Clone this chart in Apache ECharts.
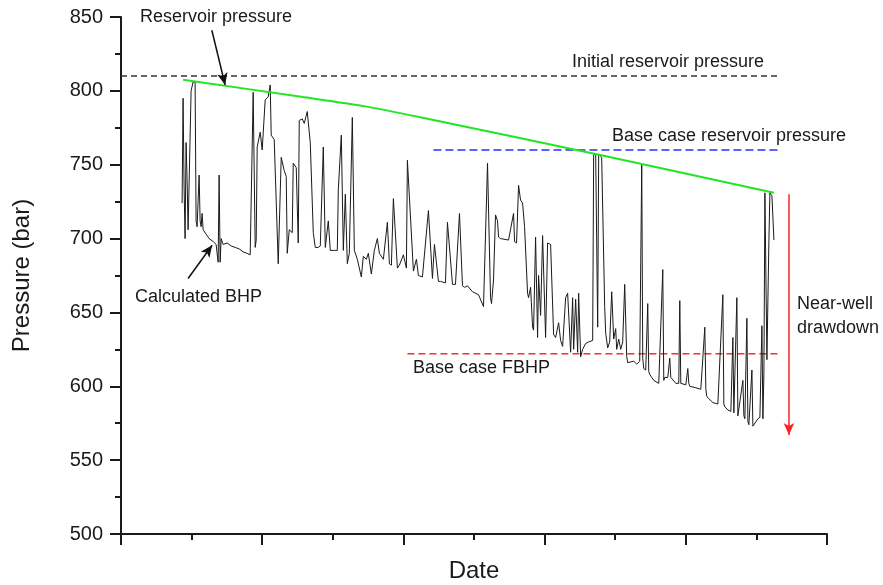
<!DOCTYPE html>
<html>
<head>
<meta charset="utf-8">
<script src="https://cdn.jsdelivr.net/npm/echarts@6/dist/echarts.min.js"></script>
<style>
  html, body { margin: 0; padding: 0; background: #fff; }
  #chart { width: 883px; height: 585px; }
</style>
</head>
<body>
<div id="chart"></div>
<script>
// time axis has no labels, so x is just a day index
const bhpDays = [61, 62, 63, 64, 65, 66, 67, 70, 72, 74, 75, 76, 78, 79, 80, 81, 82, 85, 88, 92, 95, 97, 98, 99, 100, 102, 106, 110, 114, 118, 122, 126, 129,
  132, 134, 135, 136, 139, 141, 144, 147, 149, 150, 153, 157, 160, 163, 165, 166, 168, 171, 172, 175, 177, 178, 181, 183, 186, 189, 192, 194, 197,
  199, 202, 204, 207, 209, 213, 216, 217, 220, 222, 224, 226, 228, 231, 233, 236, 240, 242, 245, 247, 250, 253, 256, 258, 262, 266, 268, 270, 272,
  276, 278, 282, 285, 286, 292, 295, 297, 301, 307, 311, 313, 317, 319, 324, 326, 331, 334, 338, 341, 343, 346,
  351, 357, 362, 366, 367, 369, 370, 372, 374, 376, 377, 379, 387, 392, 393, 395, 397, 399, 401, 403, 406, 407, 409, 411, 412, 414, 416, 417, 419,
  421, 424, 426, 429, 432, 434, 437, 439, 441, 444, 446, 449, 451, 452, 454, 456, 457, 459, 461, 464, 467, 471, 472, 474, 476, 477, 480, 483,
  484, 486, 488, 490, 492, 494, 495, 497, 499, 501, 503, 505, 506, 507, 512, 515, 518, 520, 521, 522, 524, 526, 527, 528, 532, 537, 541, 542, 543,
  546, 548, 549, 550, 554, 557, 558, 559, 560, 564, 566, 567, 568, 574, 579, 583, 584, 585, 591, 596, 601, 602, 603, 606, 609, 611, 612, 613,
  615, 616, 617, 621, 622, 623, 625, 626, 627, 630, 631, 632, 636, 638, 640, 641, 642, 643, 645, 647, 648, 650, 652, 653];
const bhpPressure = [724, 795, 735, 700, 765, 740, 706, 800, 806, 806, 712, 708, 743, 712, 708, 717, 706, 703, 700, 698, 696, 684, 743, 684, 700, 696, 697, 695, 694, 693, 691, 690, 689,
  799, 694, 699, 762, 772, 760, 794, 796, 804, 770, 767, 683, 755, 746, 742, 690, 706, 704, 751, 748, 697, 780, 781, 778, 786, 765, 704, 694, 694,
  695, 762, 694, 712, 692, 692, 692, 733, 770, 692, 730, 683, 690, 782, 692, 686, 674, 688, 686, 690, 676, 692, 700, 690, 686, 711, 683, 682,
  727, 680, 682, 689, 680, 753, 678, 686, 675, 674, 719, 673, 696, 671, 671, 670, 711, 669, 669, 717, 668, 667,
  668, 664, 662, 654, 751, 750, 660, 656, 672, 716, 712, 701, 700, 699, 717, 698, 697, 736, 726, 724, 708, 663, 660, 667, 640, 638, 701, 633, 675,
  648, 702, 633, 697, 696, 635, 633, 643, 631, 627, 660, 663, 623, 660, 625, 659, 623, 663, 620, 625, 629, 630, 631, 757, 757, 640, 757, 755,
  654, 636, 626, 630, 664, 632, 639, 625, 632, 625, 630, 669, 620, 616, 615, 617, 615, 617, 750, 619, 612, 611, 656, 610, 608, 604, 602, 679, 604,
  606, 606, 619, 606, 605, 602, 602, 658, 602, 601, 601, 612, 602, 600, 599, 598, 640, 598, 593, 589, 588, 662, 588, 586, 584, 583, 633, 582,
  581, 660, 580, 581, 604, 580, 578, 646, 576, 574, 611, 573, 572, 578, 579, 641, 578, 609, 731, 618, 699, 731, 729, 699];

const reservoirDays = [62, 180, 244, 300, 482, 652];
const reservoirPressure = [807.5, 796, 789.5, 782, 756, 731];

const initialPressure = 810;
const baseCaseReservoir = 760;
const baseCaseFBHP = 622;
const yTicks = [500, 550, 600, 650, 700, 750, 800, 850];

const font = "'Liberation Sans', Arial, sans-serif";
const zip = (xs, ys) => xs.map((x, i) => [x, ys[i]]);

const chart = echarts.init(document.getElementById('chart'));

function label (text, x, y) {
  return {
    type: 'text',
    x: x,
    y: y,
    style: { text: text, font: '18px ' + font, fill: '#1a1a1a', verticalAlign: 'middle' },
  };
}

const option = {
  animation: false,
  backgroundColor: '#fff',
  grid: { left: 121, right: 56, top: 17, bottom: 51, containLabel: false, outerBoundsMode: 'none' },
  xAxis: {
    type: 'value',
    min: 0,
    max: 705,
    interval: 141,
    name: 'Date',
    nameLocation: 'middle',
    nameGap: 25,
    nameTextStyle: { fontFamily: font, fontSize: 24, color: '#1a1a1a' },
    axisLine: { onZero: false, lineStyle: { color: '#1a1a1a', width: 2 } },
    axisTick: { length: 11, lineStyle: { color: '#1a1a1a', width: 2 } },
    minorTick: { show: true, splitNumber: 2, length: 6, lineStyle: { color: '#1a1a1a', width: 2 } },
    axisLabel: { show: false },
    splitLine: { show: false },
  },
  yAxis: {
    type: 'value',
    min: yTicks[0],
    max: yTicks[yTicks.length - 1],
    interval: 50,
    name: 'Pressure (bar)',
    nameLocation: 'middle',
    nameGap: 87,
    nameTextStyle: { fontFamily: font, fontSize: 24, color: '#1a1a1a' },
    axisLine: { show: true, lineStyle: { color: '#1a1a1a', width: 2 } },
    axisTick: { show: true, length: 11, lineStyle: { color: '#1a1a1a', width: 2 } },
    minorTick: { show: true, splitNumber: 2, length: 6, lineStyle: { color: '#1a1a1a', width: 2 } },
    axisLabel: { fontFamily: font, fontSize: 20, color: '#1a1a1a', margin: 18 },
    splitLine: { show: false },
  },
  graphic: [
    label('Reservoir pressure', 140, 17),
    label('Initial reservoir pressure', 572, 62),
    label('Base case reservoir pressure', 612, 136),
    label('Calculated BHP', 135, 297),
    label('Base case FBHP', 413, 368),
    label('Near-well', 797, 304),
    label('drawdown', 797, 328),
  ],
  series: [
    {
      name: 'Initial reservoir pressure',
      type: 'line',
      data: [[0, initialPressure], [657, initialPressure]],
      showSymbol: false,
      lineStyle: { color: '#333', width: 1.5, type: [6, 4] },
    },
    {
      name: 'Base case reservoir pressure',
      type: 'line',
      data: [[312, baseCaseReservoir], [657, baseCaseReservoir]],
      showSymbol: false,
      lineStyle: { color: '#2b2bff', width: 1.5, type: [8, 4] },
    },
    {
      name: 'Base case FBHP',
      type: 'line',
      data: [[286, baseCaseFBHP], [657, baseCaseFBHP]],
      showSymbol: false,
      lineStyle: { color: '#ff2a2a', width: 1.5, type: [7, 4] },
    },
    {
      name: 'Calculated BHP',
      type: 'line',
      data: zip(bhpDays, bhpPressure),
      showSymbol: false,
      sampling: 'none',
      lineStyle: { color: '#1a1a1a', width: 1 },
      markLine: {
        silent: true,
        symbol: ['none', 'arrow'],
        symbolSize: [8, 12],
        label: { show: false },
        lineStyle: { type: 'solid', color: '#111', width: 1.5 },
        data: [
          [{ coord: [90.7, 841] }, { coord: [104, 804] }],
          [{ coord: [67, 673] }, { coord: [91, 695.5] }],
          [{ coord: [667, 730], lineStyle: { color: '#ff2020' }, itemStyle: { color: '#ff2020' } },
            { coord: [667, 567], lineStyle: { color: '#ff2020' }, itemStyle: { color: '#ff2020' } }],
        ],
      },
    },
    {
      name: 'Reservoir pressure',
      type: 'line',
      data: zip(reservoirDays, reservoirPressure),
      showSymbol: false,
      smooth: 0.3,
      lineStyle: { color: '#22e622', width: 2 },
    },
  ],
};

chart.setOption(option);
</script>
</body>
</html>
